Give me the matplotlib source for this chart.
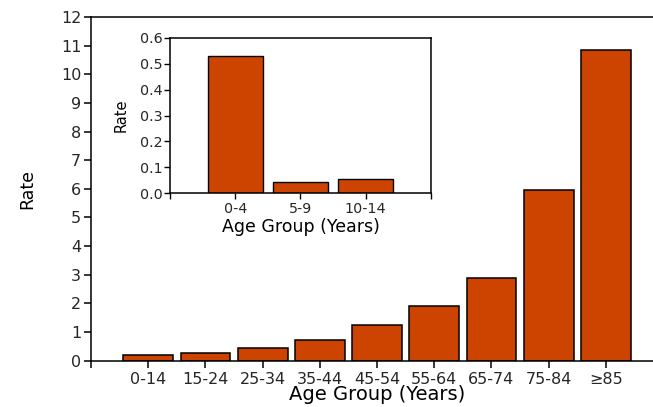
import matplotlib
matplotlib.use("Agg")
import matplotlib.pyplot as plt

# main chart: rate by age group
age_groups = ["0-14", "15-24", "25-34", "35-44", "45-54", "55-64",
              "65-74", "75-84", "\u226585"]
rates = [0.20, 0.27, 0.46, 0.71, 1.26, 1.91, 2.88, 5.96, 10.83]

# inset: children only
child_groups = ["0-4", "5-9", "10-14"]
child_rates = [0.528, 0.043, 0.055]

BAR_COLOR = "#CC4400"
TEXT_COLOR = "#262626"

plt.rcParams.update({
    "font.family": ["DejaVu Sans"],
    "text.color": TEXT_COLOR,
    "xtick.color": "black",
    "ytick.color": "black",
    "xtick.labelcolor": TEXT_COLOR,
    "ytick.labelcolor": TEXT_COLOR,
    "axes.linewidth": 1.1,
})

fig = plt.figure(figsize=(6.53, 4.07), dpi=100)
ax = fig.add_axes([0.1394, 0.1138, 0.876, 0.8445])

ax.bar(range(len(age_groups)), rates, width=0.87, color=BAR_COLOR,
       edgecolor="black", linewidth=1.1)
ax.set_xlim(-1, 9)
ax.set_ylim(0, 12)
ax.set_yticks(range(0, 13))
ax.set_xticks([-1] + list(range(len(age_groups))))
ax.set_xticklabels([""] + age_groups)
ax.tick_params(axis="both", direction="out", length=5, width=1.1,
               labelsize=11.5)
ax.tick_params(axis="x", pad=3)
ax.tick_params(axis="y", pad=2)
ax.set_xlabel("Age Group (Years)", fontsize=14, labelpad=-1)
ax.set_ylabel("Rate", fontsize=12.5, labelpad=18)

# inset
ins = fig.add_axes([0.2603, 0.525, 0.3997, 0.3823])
ins.bar(range(len(child_groups)), child_rates, width=0.84, color=BAR_COLOR,
        edgecolor="black", linewidth=1.0)
ins.set_xlim(-1, 3)
ins.set_ylim(0, 0.6)
ins.set_yticks([0.0, 0.1, 0.2, 0.3, 0.4, 0.5, 0.6])
ins.set_yticklabels([f"{v:.1f}" for v in ins.get_yticks()])
ins.set_xticks([-1] + list(range(len(child_groups))) + [3])
ins.set_xticklabels([""] + child_groups + [""])
ins.tick_params(axis="both", direction="out", length=4, width=1.0,
                labelsize=10.3)
ins.tick_params(axis="y", pad=1.5)
ins.tick_params(axis="x", pad=2.5)
ins.set_xlabel("Age Group (Years)", fontsize=12.5, labelpad=1)
ins.set_ylabel("Rate", fontsize=10.5, labelpad=8)

fig.savefig("out.png", dpi=100)
